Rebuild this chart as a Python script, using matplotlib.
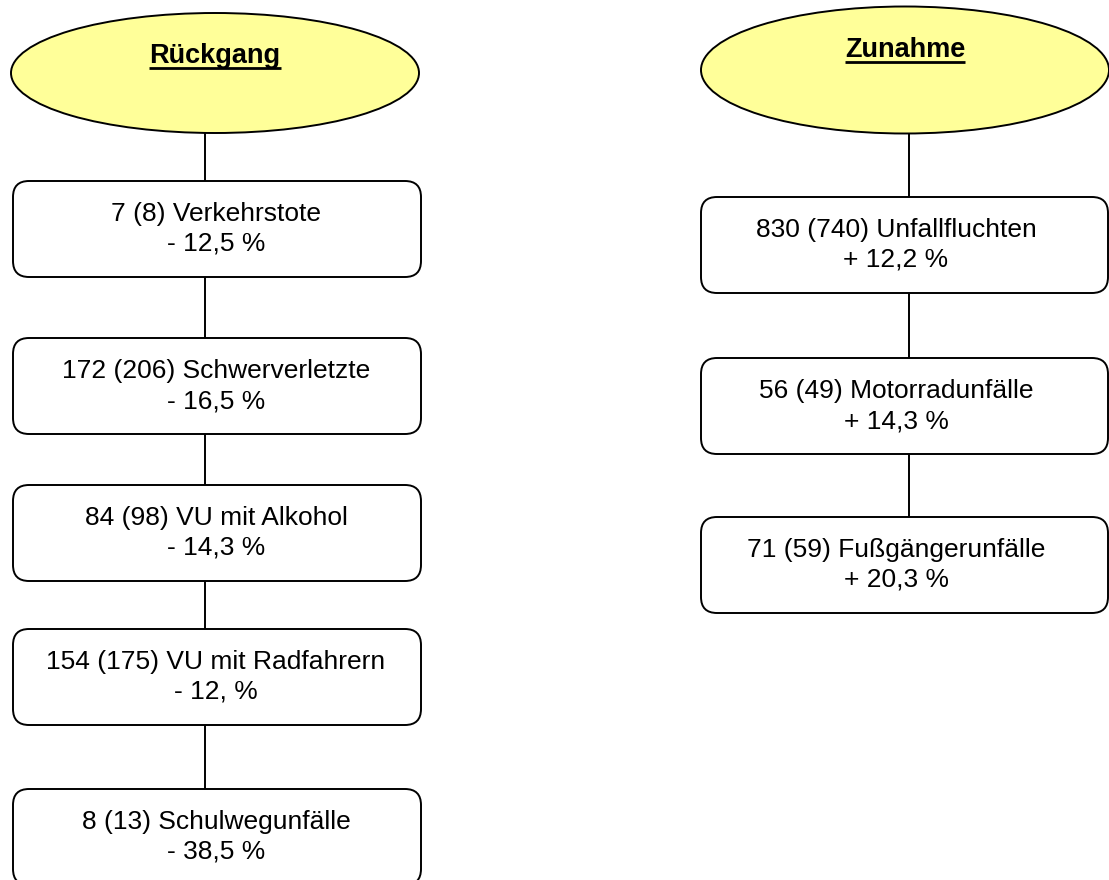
import matplotlib
matplotlib.use("Agg")
import matplotlib.pyplot as plt
from matplotlib.patches import Ellipse, FancyBboxPatch

plt.rcParams["font.family"] = ["Liberation Sans", "DejaVu Sans"]

# data
left_title = "Rückgang"
left_now = [7, 172, 84, 154, 8]
left_prev = [8, 206, 98, 175, 13]
left_names = ["Verkehrstote", "Schwerverletzte", "VU mit Alkohol", "VU mit Radfahrern", "Schulwegunfälle"]
left_change = ["- 12,5 %", "- 16,5 %", "- 14,3 %", "- 12, %", "- 38,5 %"]

right_title = "Zunahme"
right_now = [830, 56, 71]
right_prev = [740, 49, 59]
right_names = ["Unfallfluchten", "Motorradunfälle", "Fußgängerunfälle"]
right_change = ["+ 12,2 %", "+ 14,3 %", "+ 20,3 %"]

# layout (pixel units, y down)
W, H = 1109, 880
box_h = 96
fs = 19
lw = 1.4

fig = plt.figure(figsize=(W / 100, H / 100), dpi=100)
ax = fig.add_axes([0, 0, 1, 1])
ax.set_xlim(0, W)
ax.set_ylim(H, 0)
ax.axis("off")


def column(title, now, prev, names, change, ell, box_x, box_w, tops, line_x, text_x, title_base):
    ex, ey, ew, eh = ell
    ax.add_patch(Ellipse((ex, ey), ew, eh, facecolor="#FFFF99", edgecolor="black", lw=lw, zorder=3))
    t = ax.text(ex, title_base, title, ha="center", va="baseline", fontsize=fs + 0.5,
                fontweight="bold", zorder=4)
    fig.canvas.draw()
    bb = t.get_window_extent().transformed(ax.transData.inverted())
    uy = title_base + 5
    ax.plot([bb.x0, bb.x1], [uy, uy], color="black", lw=2, zorder=4, solid_capstyle="butt")

    ax.plot([line_x, line_x], [ey, tops[-1]], color="black", lw=lw, zorder=1)
    for i, top in enumerate(tops):
        ax.add_patch(FancyBboxPatch((box_x, top), box_w, box_h,
                                    boxstyle="round,pad=0,rounding_size=16",
                                    facecolor="white", edgecolor="black", lw=lw, zorder=2))
        ax.text(text_x, top + 40, f"{now[i]} ({prev[i]}) {names[i]}", ha="center",
                va="baseline", fontsize=fs, zorder=3)
        ax.text(text_x, top + 70, change[i], ha="center", va="baseline", fontsize=fs, zorder=3)


column(left_title, left_now, left_prev, left_names, left_change,
       (215, 73, 408, 120), 13, 408, [181, 338, 485, 629, 789], 205, 216, 63)
column(right_title, right_now, right_prev, right_names, right_change,
       (905, 70, 408, 127), 701, 407, [197, 358, 517], 909, 896, 57)

fig.savefig("out.png", dpi=100)
